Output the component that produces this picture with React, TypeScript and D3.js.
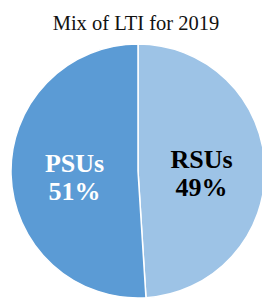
import React, { useEffect, useRef } from 'react';
import * as d3 from 'd3';

const categories = ['RSUs', 'PSUs'];
const shares = [49, 51];
const colors = ['#9DC3E6', '#5B9BD5'];
const labelColors = ['#000', '#fff'];
const title = 'Mix of LTI for 2019';

const width = 262;
const height = 299;
const serif = "'Liberation Serif', 'Times New Roman', Times, 'DejaVu Serif', serif";

export default function App() {
  const ref = useRef<SVGSVGElement>(null);

  useEffect(() => {
    if (!ref.current) return;
    const svg = d3.select(ref.current);
    svg.selectAll('*').remove();

    svg.append('rect').attr('width', width).attr('height', height).attr('fill', '#fff');

    svg.append('text')
      .attr('x', 136)
      .attr('y', 29.5)
      .attr('text-anchor', 'middle')
      .style('font-family', serif)
      .style('font-size', '20.5px')
      .attr('fill', '#111')
      .text(title);

    const cx = 138, cy = 171, r = 127;
    const data = categories.map((c, i) => ({ name: c, value: shares[i], i }));
    const pie = d3.pie<typeof data[0]>().sort(null).value(d => d.value);
    const arc = d3.arc<d3.PieArcDatum<typeof data[0]>>().innerRadius(0).outerRadius(r);
    const arcs = pie(data);

    const g = svg.append('g').attr('transform', `translate(${cx},${cy})`);
    g.selectAll('path')
      .data(arcs)
      .join('path')
      .attr('d', arc)
      .attr('fill', d => colors[d.data.i])
      .attr('stroke', '#fff')
      .attr('stroke-width', 1.5);

    // label positions a bit inside the half radius, like the original
    const labelArc = d3.arc<d3.PieArcDatum<typeof data[0]>>().innerRadius(r * 0.5).outerRadius(r * 0.5);
    const labels = g.selectAll('text')
      .data(arcs)
      .join('text')
      .attr('text-anchor', 'middle')
      .style('font-family', serif)
      .style('font-weight', 'bold')
      .style('font-size', '26px')
      .attr('fill', d => labelColors[d.data.i])
      .attr('transform', d => {
        const [x, y] = labelArc.centroid(d);
        return `translate(${x},${y})`;
      });
    labels.append('tspan').attr('x', 0).attr('y', -1).text(d => d.data.name);
    labels.append('tspan').attr('x', 0).attr('y', 27).text(d => `${d.data.value}%`);
  }, []);

  return (
    <svg
      ref={ref}
      width={width}
      height={height}
      style={{ position: 'absolute', top: 0, left: 0 }}
    />
  );
}
